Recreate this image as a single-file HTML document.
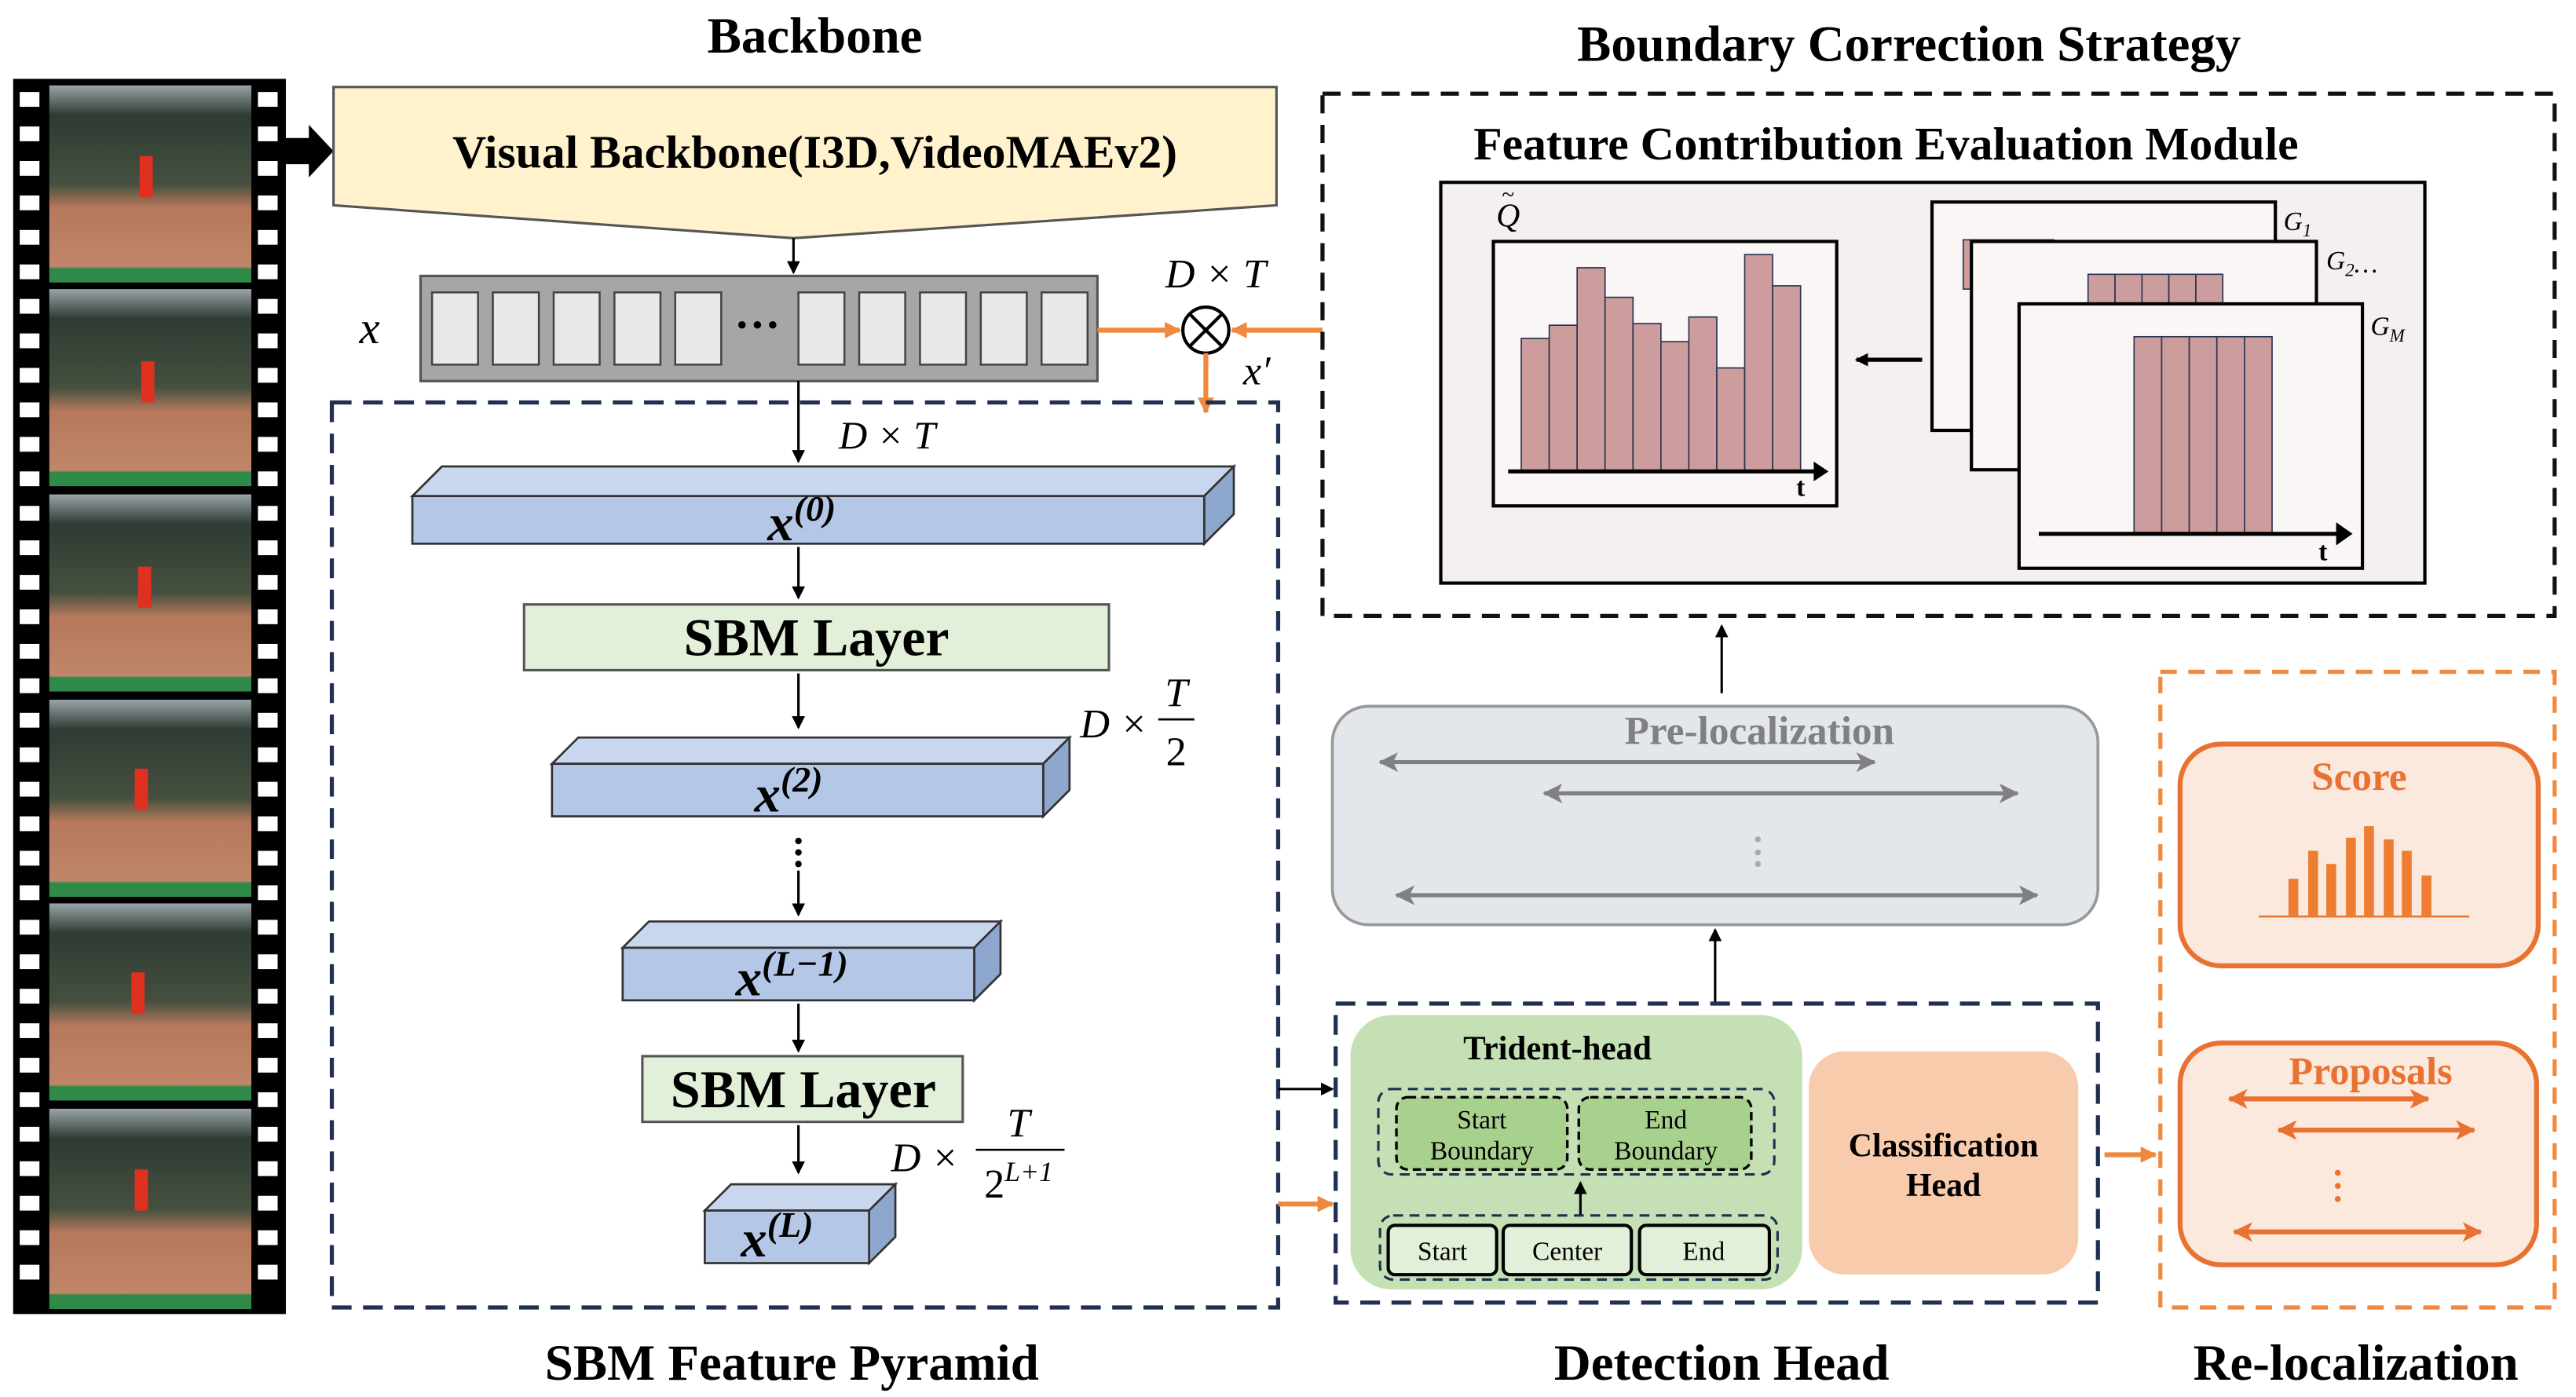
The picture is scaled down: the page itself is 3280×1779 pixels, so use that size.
<!DOCTYPE html>
<html><head><meta charset="utf-8"><style>
html,body{margin:0;padding:0;background:#fff;}
svg{display:block;}
text{font-family:"Liberation Serif",serif;}
</style></head><body>
<svg width="3280" height="1779" viewBox="0 0 1568 850.5" preserveAspectRatio="none" xmlns="http://www.w3.org/2000/svg" font-family="Liberation Serif, serif">
<defs>
<marker id="ab" markerWidth="8" markerHeight="8" refX="7" refY="4" orient="auto" markerUnits="userSpaceOnUse"><path d="M0,0 L8,4 L0,8 z" fill="#000"/></marker>
<marker id="ao" markerWidth="10" markerHeight="10" refX="9" refY="5" orient="auto" markerUnits="userSpaceOnUse"><path d="M0,0 L10,5 L0,10 z" fill="#f0883e"/></marker>
<marker id="ag" markerWidth="12" markerHeight="12" refX="11" refY="6" orient="auto-start-reverse" markerUnits="userSpaceOnUse"><path d="M0,0 L12,6 L0,12 L3,6 z" fill="#808080"/></marker>
<marker id="ar" markerWidth="12" markerHeight="12" refX="11" refY="6" orient="auto-start-reverse" markerUnits="userSpaceOnUse"><path d="M0,0 L12,6 L0,12 L3,6 z" fill="#e97132"/></marker>
<linearGradient id="fr" x1="0" y1="0" x2="0" y2="1">
<stop offset="0" stop-color="#9aa4a8"/><stop offset="0.15" stop-color="#2f3b33"/><stop offset="0.5" stop-color="#45503f"/><stop offset="0.62" stop-color="#b7785c"/><stop offset="0.92" stop-color="#c0866a"/><stop offset="0.93" stop-color="#2f8a4a"/><stop offset="1" stop-color="#2f8a4a"/>
</linearGradient>
</defs>

<g font-weight="bold" font-size="31" text-anchor="middle" fill="#000">
<text x="496" y="32">Backbone</text>
<text x="1162" y="37">Boundary Correction Strategy</text>
<text x="482" y="840">SBM Feature Pyramid</text>
<text x="1048" y="840">Detection Head</text>
<text x="1434" y="840">Re-localization</text>
</g>

<rect x="8" y="48" width="166" height="752" fill="#000"/>
<g fill="url(#fr)">
<rect x="30" y="52" width="123" height="120"/><rect x="30" y="176" width="123" height="120"/><rect x="30" y="301" width="123" height="120"/><rect x="30" y="426" width="123" height="120"/><rect x="30" y="550" width="123" height="120"/><rect x="30" y="675" width="123" height="122"/>
</g>
<g fill="#e03020">
<rect x="85" y="95" width="8" height="25"/><rect x="86" y="220" width="8" height="25"/><rect x="84" y="345" width="8" height="25"/><rect x="82" y="468" width="8" height="25"/><rect x="80" y="592" width="8" height="25"/><rect x="82" y="712" width="8" height="25"/>
</g>
<g fill="#fff" id="holes">
<rect x="12" y="56" width="12" height="9"/><rect x="12" y="77" width="12" height="9"/><rect x="12" y="98" width="12" height="9"/><rect x="12" y="119" width="12" height="9"/><rect x="12" y="140" width="12" height="9"/><rect x="12" y="161" width="12" height="9"/><rect x="12" y="182" width="12" height="9"/><rect x="12" y="203" width="12" height="9"/><rect x="12" y="224" width="12" height="9"/><rect x="12" y="245" width="12" height="9"/><rect x="12" y="266" width="12" height="9"/><rect x="12" y="287" width="12" height="9"/><rect x="12" y="308" width="12" height="9"/><rect x="12" y="329" width="12" height="9"/><rect x="12" y="350" width="12" height="9"/><rect x="12" y="371" width="12" height="9"/><rect x="12" y="392" width="12" height="9"/><rect x="12" y="413" width="12" height="9"/><rect x="12" y="434" width="12" height="9"/><rect x="12" y="455" width="12" height="9"/><rect x="12" y="476" width="12" height="9"/><rect x="12" y="497" width="12" height="9"/><rect x="12" y="518" width="12" height="9"/><rect x="12" y="539" width="12" height="9"/><rect x="12" y="560" width="12" height="9"/><rect x="12" y="581" width="12" height="9"/><rect x="12" y="602" width="12" height="9"/><rect x="12" y="623" width="12" height="9"/><rect x="12" y="644" width="12" height="9"/><rect x="12" y="665" width="12" height="9"/><rect x="12" y="686" width="12" height="9"/><rect x="12" y="707" width="12" height="9"/><rect x="12" y="728" width="12" height="9"/><rect x="12" y="749" width="12" height="9"/><rect x="12" y="770" width="12" height="9"/>
</g>
<use href="#holes" x="145"/>
<path d="M174,84 L188,84 L188,76 L203,92 L188,108 L188,100 L174,100 z" fill="#000"/>

<path d="M203,53 L777,53 L777,125 L483,145 L203,125 z" fill="#fff2cc" stroke="#555" stroke-width="1.5"/>
<text x="496" y="102" font-size="28.5" font-weight="bold" text-anchor="middle">Visual Backbone(I3D,VideoMAEv2)</text>
<line x1="483" y1="145" x2="483" y2="166" stroke="#000" stroke-width="1.5" marker-end="url(#ab)"/>

<rect x="256" y="168" width="412" height="64" fill="#a6a6a6" stroke="#555" stroke-width="1.5"/>
<g fill="#e8e8e8" stroke="#444" stroke-width="1.2">
<rect x="263" y="178" width="28" height="44"/><rect x="300" y="178" width="28" height="44"/><rect x="337" y="178" width="28" height="44"/><rect x="374" y="178" width="28" height="44"/><rect x="411" y="178" width="28" height="44"/>
<rect x="486" y="178" width="28" height="44"/><rect x="523" y="178" width="28" height="44"/><rect x="560" y="178" width="28" height="44"/><rect x="597" y="178" width="28" height="44"/><rect x="634" y="178" width="28" height="44"/>
</g>
<text x="461" y="207" font-size="28" font-weight="bold" text-anchor="middle">···</text>
<text x="225" y="209" font-size="28" font-style="italic" text-anchor="middle">x</text>
<text x="740" y="175" font-size="25" font-style="italic" text-anchor="middle">D × T</text>
<line x1="668" y1="201" x2="718" y2="201" stroke="#f0883e" stroke-width="3" marker-end="url(#ao)"/>
<line x1="805" y1="201" x2="750" y2="201" stroke="#f0883e" stroke-width="3" marker-end="url(#ao)"/>
<circle cx="734" cy="201" r="14" fill="#fff" stroke="#000" stroke-width="2"/>
<path d="M724,191 L744,211 M744,191 L724,211" stroke="#000" stroke-width="2"/>
<line x1="734" y1="215" x2="734" y2="251" stroke="#f0883e" stroke-width="3" marker-end="url(#ao)"/>
<text x="765" y="234" font-size="25" font-style="italic" text-anchor="middle">x′</text>

<rect x="202" y="245" width="576" height="551" fill="none" stroke="#1f3050" stroke-width="2.5" stroke-dasharray="12,7"/>
<line x1="486" y1="232" x2="486" y2="281" stroke="#000" stroke-width="1.5" marker-end="url(#ab)"/>
<text x="540" y="273" font-size="24" font-style="italic" text-anchor="middle">D × T</text>

<g stroke="#333" stroke-width="1.3">
<path d="M251,302 L269,284 L751,284 L733,302 z" fill="#c9d7ee"/>
<path d="M733,302 L751,284 L751,313 L733,331 z" fill="#8ea7cf"/>
<rect x="251" y="302" width="482" height="29" fill="#b4c7e7"/>
<path d="M336,465 L352,449 L651,449 L635,465 z" fill="#c9d7ee"/>
<path d="M635,465 L651,449 L651,481 L635,497 z" fill="#8ea7cf"/>
<rect x="336" y="465" width="299" height="32" fill="#b4c7e7"/>
<path d="M379,577 L395,561 L609,561 L593,577 z" fill="#c9d7ee"/>
<path d="M593,577 L609,561 L609,593 L593,609 z" fill="#8ea7cf"/>
<rect x="379" y="577" width="214" height="32" fill="#b4c7e7"/>
<path d="M429,737 L445,721 L545,721 L529,737 z" fill="#c9d7ee"/>
<path d="M529,737 L545,721 L545,753 L529,769 z" fill="#8ea7cf"/>
<rect x="429" y="737" width="100" height="32" fill="#b4c7e7"/>
</g>
<g font-size="32" font-weight="bold" font-style="italic" text-anchor="middle">
<text x="488" y="329">x<tspan font-size="22" dy="-12">(0)</tspan></text>
<text x="480" y="494">x<tspan font-size="22" dy="-12">(2)</tspan></text>
<text x="482" y="606">x<tspan font-size="22" dy="-12">(L−1)</tspan></text>
<text x="473" y="765">x<tspan font-size="22" dy="-12">(L)</tspan></text>
</g>
<line x1="486" y1="333" x2="486" y2="364" stroke="#000" stroke-width="1.5" marker-end="url(#ab)"/>
<rect x="319" y="368" width="356" height="40" fill="#e2f0d9" stroke="#555" stroke-width="1.5"/>
<text x="497" y="399" font-size="32.5" font-weight="bold" text-anchor="middle">SBM Layer</text>
<line x1="486" y1="410" x2="486" y2="443" stroke="#000" stroke-width="1.5" marker-end="url(#ab)"/>
<text x="678" y="449" font-size="25" font-style="italic" text-anchor="middle">D ×</text>
<text x="716" y="430" font-size="25" font-style="italic" text-anchor="middle">T</text>
<line x1="705" y1="438" x2="727" y2="438" stroke="#000" stroke-width="1.3"/>
<text x="716" y="466" font-size="25" text-anchor="middle">2</text>
<g fill="#000"><circle cx="486" cy="512" r="2"/><circle cx="486" cy="519" r="2"/><circle cx="486" cy="526" r="2"/></g>
<line x1="486" y1="530" x2="486" y2="557" stroke="#000" stroke-width="1.5" marker-end="url(#ab)"/>
<line x1="486" y1="611" x2="486" y2="640" stroke="#000" stroke-width="1.5" marker-end="url(#ab)"/>
<rect x="391" y="643" width="195" height="40" fill="#e2f0d9" stroke="#555" stroke-width="1.5"/>
<text x="489" y="674" font-size="32.5" font-weight="bold" text-anchor="middle">SBM Layer</text>
<line x1="486" y1="685" x2="486" y2="714" stroke="#000" stroke-width="1.5" marker-end="url(#ab)"/>
<text x="563" y="713" font-size="25" font-style="italic" text-anchor="middle">D ×</text>
<text x="620" y="692" font-size="25" font-style="italic" text-anchor="middle">T</text>
<line x1="594" y1="700" x2="648" y2="700" stroke="#000" stroke-width="1.3"/>
<text x="620" y="729" font-size="25" text-anchor="middle">2<tspan font-size="17" dy="-10" font-style="italic">L+1</tspan></text>

<line x1="778" y1="663" x2="811" y2="663" stroke="#000" stroke-width="1.5" marker-end="url(#ab)"/>
<line x1="778" y1="733" x2="811" y2="733" stroke="#f0883e" stroke-width="3" marker-end="url(#ao)"/>

<rect x="805" y="57" width="750" height="318" fill="none" stroke="#111" stroke-width="2.5" stroke-dasharray="11,7"/>
<text x="1148" y="97" font-size="28.5" font-weight="bold" text-anchor="middle">Feature Contribution Evaluation Module</text>
<rect x="877" y="111" width="599" height="244" fill="#f5f0f0" stroke="#000" stroke-width="2"/>
<text x="918" y="138" font-size="20" font-style="italic" text-anchor="middle">Q</text>
<text x="918" y="123" font-size="14" text-anchor="middle">~</text>
<rect x="909" y="147" width="209" height="161" fill="#faf6f6" stroke="#000" stroke-width="2"/>
<g fill="#cd9c9c" stroke="#2a3550" stroke-width="0.8">
<rect x="926" y="206" width="17" height="81"/><rect x="943" y="198" width="17" height="89"/><rect x="960" y="163" width="17" height="124"/><rect x="977" y="181" width="17" height="106"/><rect x="994" y="197" width="17" height="90"/><rect x="1011" y="208" width="17" height="79"/><rect x="1028" y="193" width="17" height="94"/><rect x="1045" y="224" width="17" height="63"/><rect x="1062" y="155" width="17" height="132"/><rect x="1079" y="174" width="17" height="113"/>
</g>
<line x1="918" y1="287" x2="1108" y2="287" stroke="#000" stroke-width="2.5"/>
<path d="M1104,281 L1113,287 L1104,293 z" fill="#000"/>
<text x="1096" y="302" font-size="16" font-weight="bold" text-anchor="middle">t</text>
<line x1="1170" y1="219" x2="1130" y2="219" stroke="#000" stroke-width="2.5" marker-end="url(#ab)"/>
<rect x="1176" y="123" width="209" height="139" fill="#faf6f6" stroke="#000" stroke-width="2"/>
<g fill="#cd9c9c" stroke="#2a3550" stroke-width="0.8"><rect x="1195" y="146" width="11" height="30"/><rect x="1206" y="146" width="11" height="30"/><rect x="1217" y="146" width="11" height="30"/><rect x="1228" y="146" width="11" height="30"/><rect x="1239" y="146" width="11" height="30"/></g>
<rect x="1200" y="147" width="210" height="139" fill="#faf6f6" stroke="#000" stroke-width="2"/>
<g fill="#cd9c9c" stroke="#2a3550" stroke-width="0.8"><rect x="1271" y="167" width="16.4" height="20"/><rect x="1287.4" y="167" width="16.4" height="20"/><rect x="1303.8" y="167" width="16.4" height="20"/><rect x="1320.2" y="167" width="16.4" height="20"/><rect x="1336.6" y="167" width="16.4" height="20"/></g>
<rect x="1229" y="185" width="209" height="161" fill="#faf6f6" stroke="#000" stroke-width="2"/>
<g fill="#cd9c9c" stroke="#2a3550" stroke-width="0.8"><rect x="1299" y="205" width="16.8" height="120"/><rect x="1315.8" y="205" width="16.8" height="120"/><rect x="1332.6" y="205" width="16.8" height="120"/><rect x="1349.4" y="205" width="16.8" height="120"/><rect x="1366.2" y="205" width="16.8" height="120"/></g>
<line x1="1241" y1="325" x2="1426" y2="325" stroke="#000" stroke-width="2.5"/>
<path d="M1422,318 L1432,325 L1422,332 z" fill="#000"/>
<text x="1414" y="341" font-size="16" font-weight="bold" text-anchor="middle">t</text>
<g font-size="16" font-style="italic">
<text x="1390" y="140">G<tspan font-size="11" dy="4">1</tspan></text>
<text x="1416" y="164">G<tspan font-size="11" dy="4">2</tspan><tspan dy="-2">…</tspan></text>
<text x="1443" y="204">G<tspan font-size="11" dy="4">M</tspan></text>
</g>

<line x1="1048" y1="422" x2="1048" y2="381" stroke="#000" stroke-width="1.5" marker-end="url(#ab)"/>
<rect x="811" y="430" width="466" height="133" rx="22" fill="#e3e7ec" stroke="#999" stroke-width="1.8"/>
<text x="1071" y="453" font-size="24.5" font-weight="bold" fill="#808080" text-anchor="middle">Pre-localization</text>
<g stroke="#808080" stroke-width="2.5">
<line x1="840" y1="464" x2="1141" y2="464" marker-start="url(#ag)" marker-end="url(#ag)"/>
<line x1="940" y1="483" x2="1228" y2="483" marker-start="url(#ag)" marker-end="url(#ag)"/>
<line x1="850" y1="545" x2="1240" y2="545" marker-start="url(#ag)" marker-end="url(#ag)"/>
</g>
<g fill="#aaa"><circle cx="1070" cy="511" r="1.8"/><circle cx="1070" cy="519" r="1.8"/><circle cx="1070" cy="526" r="1.8"/></g>
<line x1="1044" y1="610" x2="1044" y2="566" stroke="#000" stroke-width="1.5" marker-end="url(#ab)"/>

<rect x="813" y="611" width="464" height="182" fill="none" stroke="#1f3050" stroke-width="2.5" stroke-dasharray="12,7"/>
<rect x="822" y="618" width="275" height="167" rx="25" fill="#c5e0b4"/>
<text x="948" y="645" font-size="20.5" font-weight="bold" text-anchor="middle">Trident-head</text>
<rect x="839" y="663" width="241" height="52" rx="8" fill="none" stroke="#1f3050" stroke-width="1.5" stroke-dasharray="6,4"/>
<rect x="850" y="668" width="104" height="44" rx="7" fill="#a9d18e" stroke="#000" stroke-width="1.6" stroke-dasharray="5,3"/>
<rect x="961" y="668" width="105" height="44" rx="7" fill="#a9d18e" stroke="#000" stroke-width="1.6" stroke-dasharray="5,3"/>
<g font-size="16" text-anchor="middle">
<text x="902" y="687">Start</text><text x="902" y="706">Boundary</text>
<text x="1014" y="687">End</text><text x="1014" y="706">Boundary</text>
</g>
<line x1="962" y1="740" x2="962" y2="720" stroke="#000" stroke-width="1.5" marker-end="url(#ab)"/>
<rect x="840" y="740" width="242" height="39" rx="8" fill="none" stroke="#1f3050" stroke-width="1.5" stroke-dasharray="6,4"/>
<g fill="#e2f0d9" stroke="#000" stroke-width="2">
<rect x="845" y="746" width="66" height="30" rx="4"/><rect x="915" y="746" width="78" height="30" rx="4"/><rect x="998" y="746" width="79" height="30" rx="4"/>
</g>
<g font-size="16" text-anchor="middle">
<text x="878" y="767">Start</text><text x="954" y="767">Center</text><text x="1037" y="767">End</text>
</g>
<rect x="1101" y="640" width="164" height="136" rx="22" fill="#f8cbad"/>
<g font-size="20" font-weight="bold" text-anchor="middle"><text x="1183" y="704">Classification</text><text x="1183" y="728">Head</text></g>
<line x1="1281" y1="703" x2="1312" y2="703" stroke="#f0883e" stroke-width="3" marker-end="url(#ao)"/>

<rect x="1315" y="409" width="240" height="387" fill="none" stroke="#f0883e" stroke-width="2.5" stroke-dasharray="10,7"/>
<rect x="1327" y="453" width="218" height="135" rx="25" fill="#fbe9dd" stroke="#e97132" stroke-width="3"/>
<text x="1436" y="481" font-size="24.5" font-weight="bold" fill="#e97132" text-anchor="middle">Score</text>
<line x1="1375" y1="558" x2="1503" y2="558" stroke="#e97132" stroke-width="1.2"/>
<g fill="#ed7d31">
<rect x="1393" y="535" width="6" height="23"/><rect x="1405" y="518" width="6" height="40"/><rect x="1416" y="526" width="6" height="32"/><rect x="1428" y="510" width="6" height="48"/><rect x="1439" y="503" width="6" height="55"/><rect x="1451" y="511" width="6" height="47"/><rect x="1462" y="518" width="6" height="40"/><rect x="1474" y="533" width="6" height="25"/>
</g>
<rect x="1327" y="635" width="217" height="135" rx="25" fill="#fbe9dd" stroke="#e97132" stroke-width="3"/>
<text x="1443" y="660" font-size="24" font-weight="bold" fill="#e97132" text-anchor="middle">Proposals</text>
<g stroke="#e97132" stroke-width="3">
<line x1="1357" y1="669" x2="1478" y2="669" marker-start="url(#ar)" marker-end="url(#ar)"/>
<line x1="1387" y1="688" x2="1506" y2="688" marker-start="url(#ar)" marker-end="url(#ar)"/>
<line x1="1360" y1="750" x2="1510" y2="750" marker-start="url(#ar)" marker-end="url(#ar)"/>
</g>
<g fill="#e97132"><circle cx="1423" cy="714" r="1.8"/><circle cx="1423" cy="722" r="1.8"/><circle cx="1423" cy="730" r="1.8"/></g>
</svg>
</body></html>
